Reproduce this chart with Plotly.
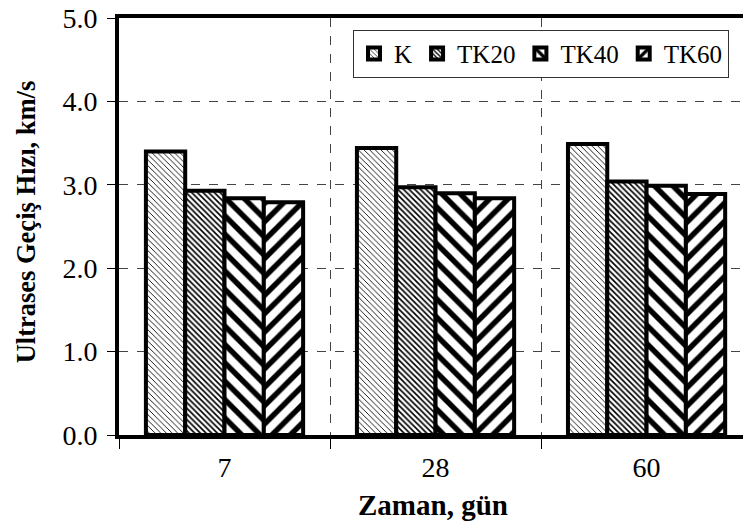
import plotly.graph_objects as go

categories = ["7", "28", "60"]
series_names = ["K", "TK20", "TK40", "TK60"]
K = [3.40, 3.44, 3.49]
TK20 = [2.93, 2.97, 3.04]
TK40 = [2.84, 2.90, 2.99]
TK60 = [2.79, 2.84, 2.89]
y_ticks = [0, 1, 2, 3, 4, 5]
y_ticklabels = ["0.0", "1.0", "2.0", "3.0", "4.0", "5.0"]
x_title = "Zaman, gün"
y_title = "Ultrases Geçiş Hızı, km/s"

values = [K, TK20, TK40, TK60]
patterns = [
    dict(shape="\\", size=4, solidity=0.22, fgcolor="black", bgcolor="white", fgopacity=1),
    dict(shape="\\", size=4, solidity=0.42, fgcolor="black", bgcolor="white", fgopacity=1),
    dict(shape="\\", size=13, solidity=0.42, fgcolor="black", bgcolor="white", fgopacity=1),
    dict(shape="/", size=13, solidity=0.42, fgcolor="black", bgcolor="white", fgopacity=1),
]

FONT = "Liberation Serif"

fig = go.Figure()
for name, vals, pat in zip(series_names, values, patterns):
    fig.add_trace(go.Bar(
        x=categories, y=vals, name=name,
        marker=dict(color="white", pattern=pat,
                    line=dict(color="black", width=4)),
    ))

fig.update_layout(
    width=743, height=529,
    margin=dict(l=119, r=0, t=18, b=94),
    paper_bgcolor="white", plot_bgcolor="white",
    barmode="group", bargap=0.255, bargroupgap=0,
    font=dict(family=FONT, color="black", size=24),
    showlegend=True,
    legend=dict(orientation="h", x=0.375, xanchor="left", y=0.972, yanchor="top",
                bgcolor="white", bordercolor="#333", borderwidth=1,
                font=dict(size=25, family=FONT), itemwidth=30,
                traceorder="normal"),
    xaxis=dict(
        type="category", range=[-0.5, 2.457],
        tickson="boundaries", ticks="outside", ticklen=10, tickwidth=1, tickcolor="black",
        showgrid=True, gridcolor="#444", griddash="dash", gridwidth=1,
        showline=True, linecolor="black", linewidth=4, mirror=True,
        tickfont=dict(size=28, family=FONT), ticklabelstandoff=4,
    ),
    yaxis=dict(
        range=[0, 5], tickvals=y_ticks, ticktext=y_ticklabels,
        ticks="outside", ticklen=8, tickwidth=1, tickcolor="black",
        showgrid=True, gridcolor="#444", griddash="dash", gridwidth=1,
        showline=True, linecolor="black", linewidth=4, mirror=False,
        zeroline=False,
        tickfont=dict(size=28, family=FONT), ticklabelstandoff=4,
    ),
    annotations=[
        dict(text="<b>" + x_title + "</b>", xref="paper", yref="paper",
             x=0.503, y=-0.168, xanchor="center", yanchor="middle", showarrow=False,
             font=dict(size=29, family=FONT, color="black")),
        dict(text="<b>" + y_title + "</b>", xref="paper", yref="paper",
             x=-0.149, y=0.51, xanchor="center", yanchor="middle", showarrow=False,
             textangle=-90, font=dict(size=26.5, family=FONT, color="black")),
    ],
)

fig.write_html("out.html")
